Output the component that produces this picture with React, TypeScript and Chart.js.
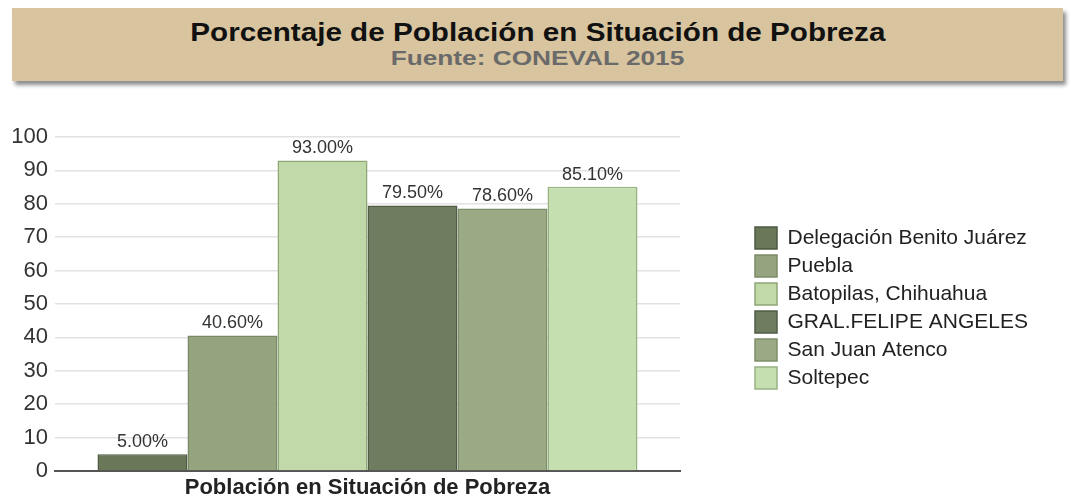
import React, { useEffect, useRef } from "react";
import { Chart, registerables } from "chart.js";

Chart.register(...registerables);

const categories = ["Población en Situación de Pobreza"];
const seriesNames = [
  "Delegación Benito Juárez",
  "Puebla",
  "Batopilas, Chihuahua",
  "GRAL.FELIPE ANGELES",
  "San Juan Atenco",
  "Soltepec",
];
const seriesValues = [5.0, 40.6, 93.0, 79.5, 78.6, 85.1];
const fillColors = ["#6a7859", "#94a47f", "#c1d9a9", "#6e7c5f", "#9aaa85", "#c6dfb0"];
const borderColors = ["#4e5a41", "#7a8a66", "#8ea777", "#505c45", "#7e8e6a", "#96b283"];
const yTicks = [0, 10, 20, 30, 40, 50, 60, 70, 80, 90, 100];

const FONT = '"Liberation Sans", Arial, Helvetica, sans-serif';

const valueLabels = {
  id: "valueLabels",
  afterDatasetsDraw(chart: any) {
    const ctx = chart.ctx;
    ctx.save();
    ctx.font = `18px ${FONT}`;
    ctx.fillStyle = "#333";
    ctx.textAlign = "center";
    ctx.textBaseline = "bottom";
    chart.data.datasets.forEach((ds: any, i: number) => {
      const meta = chart.getDatasetMeta(i);
      meta.data.forEach((el: any, j: number) => {
        ctx.fillText(ds.data[j].toFixed(2) + "%", el.x, el.y - 3);
      });
    });
    ctx.restore();
  },
};

const legendFix = {
  id: "legendFix",
  beforeLayout(chart: any) {
    const lg = chart.legend;
    if (lg && !lg._patched) {
      lg._patched = true;
      const orig = lg.fit.bind(lg);
      lg.fit = function () {
        this.maxWidth = 400;
        orig();
        this.width = 297;
      };
    }
  },
  afterLayout(chart: any) {
    const lg = chart.legend;
    if (lg) {
      lg.top += 4;
      lg.bottom += 4;
    }
  },
};

export default function App() {
  const canvasRef = useRef<HTMLCanvasElement | null>(null);

  useEffect(() => {
    if (!canvasRef.current) return;
    const chart = new Chart(canvasRef.current, {
      type: "bar",
      data: {
        labels: categories,
        datasets: seriesNames.map((name, i) => ({
          label: name,
          data: [seriesValues[i]],
          backgroundColor: fillColors[i],
          borderColor: borderColors[i],
          borderWidth: 1.5,
          categoryPercentage: 0.864,
          barPercentage: 1,
        })),
      },
      options: {
        animation: false,
        responsive: true,
        maintainAspectRatio: false,
        layout: { padding: { top: 47, left: 0, right: 30, bottom: 0 } },
        plugins: {
          title: { display: false },
          tooltip: { enabled: false },
          legend: {
            position: "right",
            align: "center",
            fullSize: false,
            labels: {
              boxWidth: 22,
              boxHeight: 22,
              padding: 6,
              color: "#222",
              font: { family: FONT, size: 21 },
            },
          },
        },
        scales: {
          x: {
            grid: { display: false, drawTicks: false },
            border: { display: true, color: "#555", width: 2 },
            afterFit: (s: any) => {
              s.height = 27;
            },
            ticks: {
              color: "#222",
              padding: 4,
              font: { family: FONT, size: 22, weight: "bold" },
            },
          },
          y: {
            min: 0,
            max: 100,
            afterBuildTicks: (s: any) => {
              s.ticks = yTicks.map((v) => ({ value: v }));
            },
            afterFit: (s: any) => {
              s.width = 55;
            },
            grid: {
              drawTicks: false,
              color: (c: any) => (c.tick && c.tick.value === 0 ? "rgba(0,0,0,0)" : "#e2e2e2"),
              lineWidth: 1.5,
            },
            border: { display: false },
            ticks: {
              color: "#333",
              padding: 7,
              font: { family: FONT, size: 22 },
            },
          },
          gap: {
            type: "linear",
            position: "right",
            display: true,
            grid: { display: false },
            border: { display: false },
            ticks: { display: false },
            afterFit: (s: any) => {
              s.width = 69;
            },
          },
        },
      } as any,
      plugins: [valueLabels, legendFix],
    });
    return () => chart.destroy();
  }, []);

  return (
    <div
      style={{
        position: "absolute",
        left: 0,
        top: 0,
        width: 1076,
        height: 498,
        background: "#fff",
        overflow: "hidden",
        fontFamily: FONT,
      }}
    >
      <div
        style={{
          position: "absolute",
          left: 12,
          top: 8,
          width: 1051,
          height: 73,
          background: "#d8c49e",
          boxShadow: "3px 4px 4px rgba(0,0,0,0.45)",
          textAlign: "center",
        }}
      >
        <div
          style={{
            position: "absolute",
            left: 0,
            right: 0,
            top: 9,
            fontSize: 26,
            fontWeight: "bold",
            color: "#111",
            lineHeight: "30px",
          }}
        >
          <span style={{ display: "inline-block", transform: "scaleX(1.14)" }}>
            Porcentaje de Población en Situación de Pobreza
          </span>
        </div>
        <div
          style={{
            position: "absolute",
            left: 0,
            right: 0,
            top: 37,
            fontSize: 21,
            fontWeight: "bold",
            color: "#6a6a6a",
            lineHeight: "26px",
          }}
        >
          <span style={{ display: "inline-block", transform: "scaleX(1.25)" }}>
            Fuente: CONEVAL 2015
          </span>
        </div>
      </div>
      <div style={{ position: "absolute", left: 0, top: 90, width: 1076, height: 408 }}>
        <canvas ref={canvasRef} />
      </div>
    </div>
  );
}
